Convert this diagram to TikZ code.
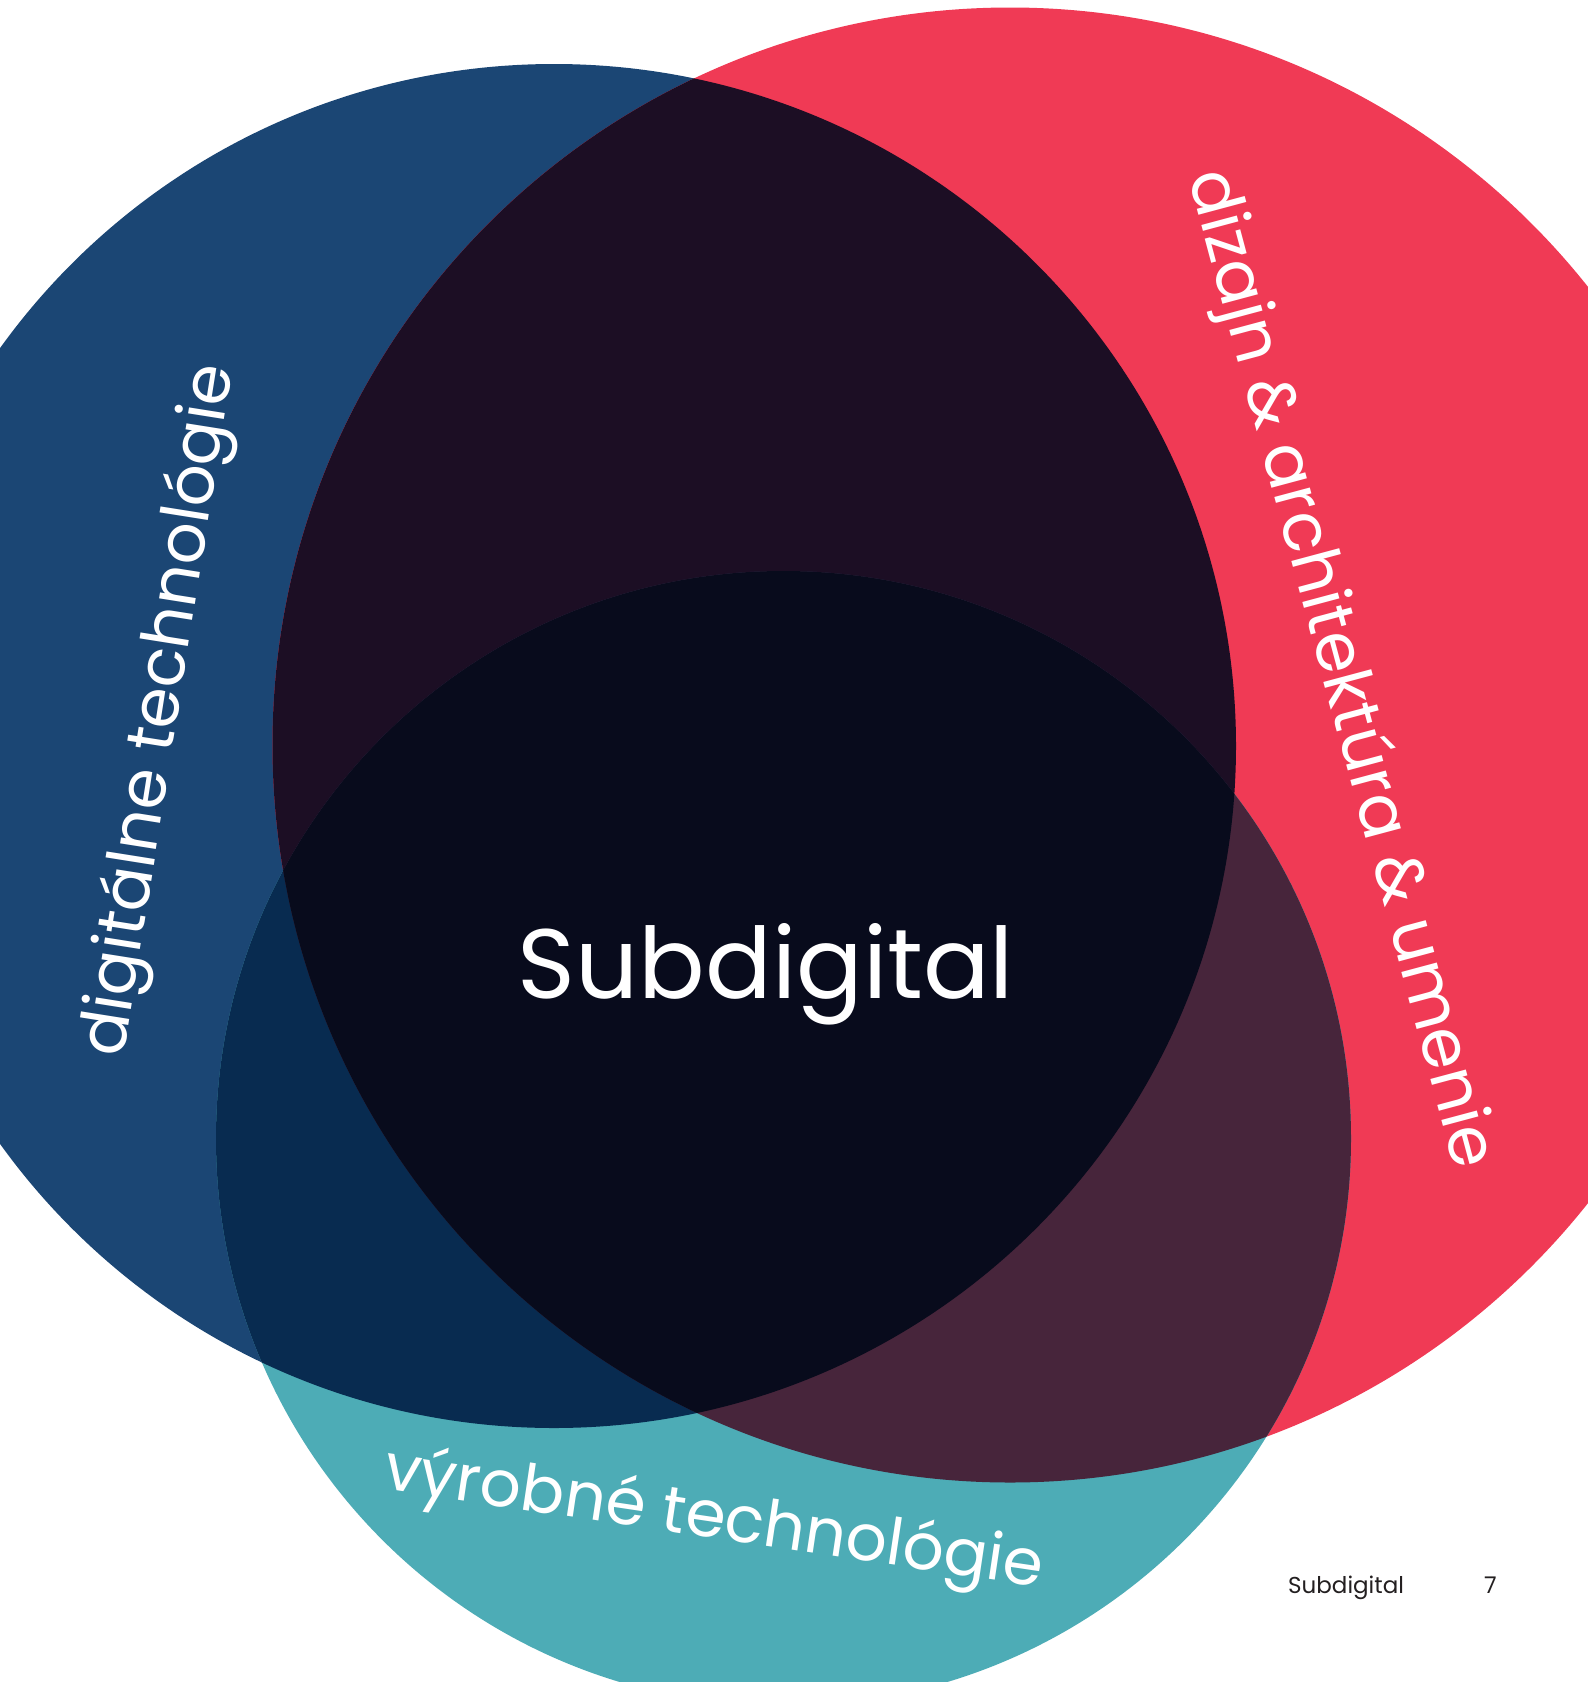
\documentclass[tikz,border=0pt]{standalone}
\usepackage{fontspec}
\setmainfont{Poppins}
\usepackage{graphicx}
\definecolor{cblue}{HTML}{1B4674}
\definecolor{cred}{HTML}{F03A55}
\definecolor{cteal}{HTML}{4DACB6}
\definecolor{cbr}{HTML}{1C0E24}
\definecolor{cbt}{HTML}{082B50}
\definecolor{crt}{HTML}{47253B}
\definecolor{call}{HTML}{080B1C}
\definecolor{foot}{HTML}{231F20}
\tikzset{
  lbl/.style={text=white, inner sep=0pt, anchor=base},
  footlbl/.style={text=foot, inner sep=0pt, anchor=base west, font=\fontsize{23}{26}\selectfont}
}
\begin{document}
\begin{tikzpicture}[x=1pt,y=-1pt]
\useasboundingbox (0,0) rectangle (1588,1682);
\coordinate (B) at (554,746);
\coordinate (R) at (1010,745);
\coordinate (T) at (783.5,1138.5);
\def\rB{682}
\def\rR{737.5}
\def\rT{567.5}
% base circles
\fill[cblue] (B) circle[radius=\rB];
\fill[cred] (R) circle[radius=\rR];
\fill[cteal] (T) circle[radius=\rT];
% pairwise overlaps
\begin{scope}
  \clip (B) circle[radius=\rB];
  \fill[cbr] (R) circle[radius=\rR];
\end{scope}
\begin{scope}
  \clip (B) circle[radius=\rB];
  \fill[cbt] (T) circle[radius=\rT];
\end{scope}
\begin{scope}
  \clip (R) circle[radius=\rR];
  \fill[crt] (T) circle[radius=\rT];
\end{scope}
% triple overlap
\begin{scope}
  \clip (B) circle[radius=\rB];
  \clip (R) circle[radius=\rR];
  \fill[call] (T) circle[radius=\rT];
\end{scope}
% labels
\node[lbl] (main) at (766,998) {\resizebox{496pt}{!}{Subdigital}};
\node[lbl, rotate=81] (dig) at (178,713) {\resizebox{699pt}{!}{digitálne technológie}};
\node[lbl, rotate=-75] (diz) at (1322,674) {\resizebox{1030pt}{!}{dizajn \& architektúra \& umenie}};
\node[lbl, rotate=-8.5] (vyr) at (711,1538) {\resizebox{665pt}{!}{výrobné technológie}};
% footer
\node[footlbl] (fsub) at (1288,1593) {Subdigital};
\node[footlbl] (fnum) at (1484,1593) {7};
\end{tikzpicture}
\end{document}
